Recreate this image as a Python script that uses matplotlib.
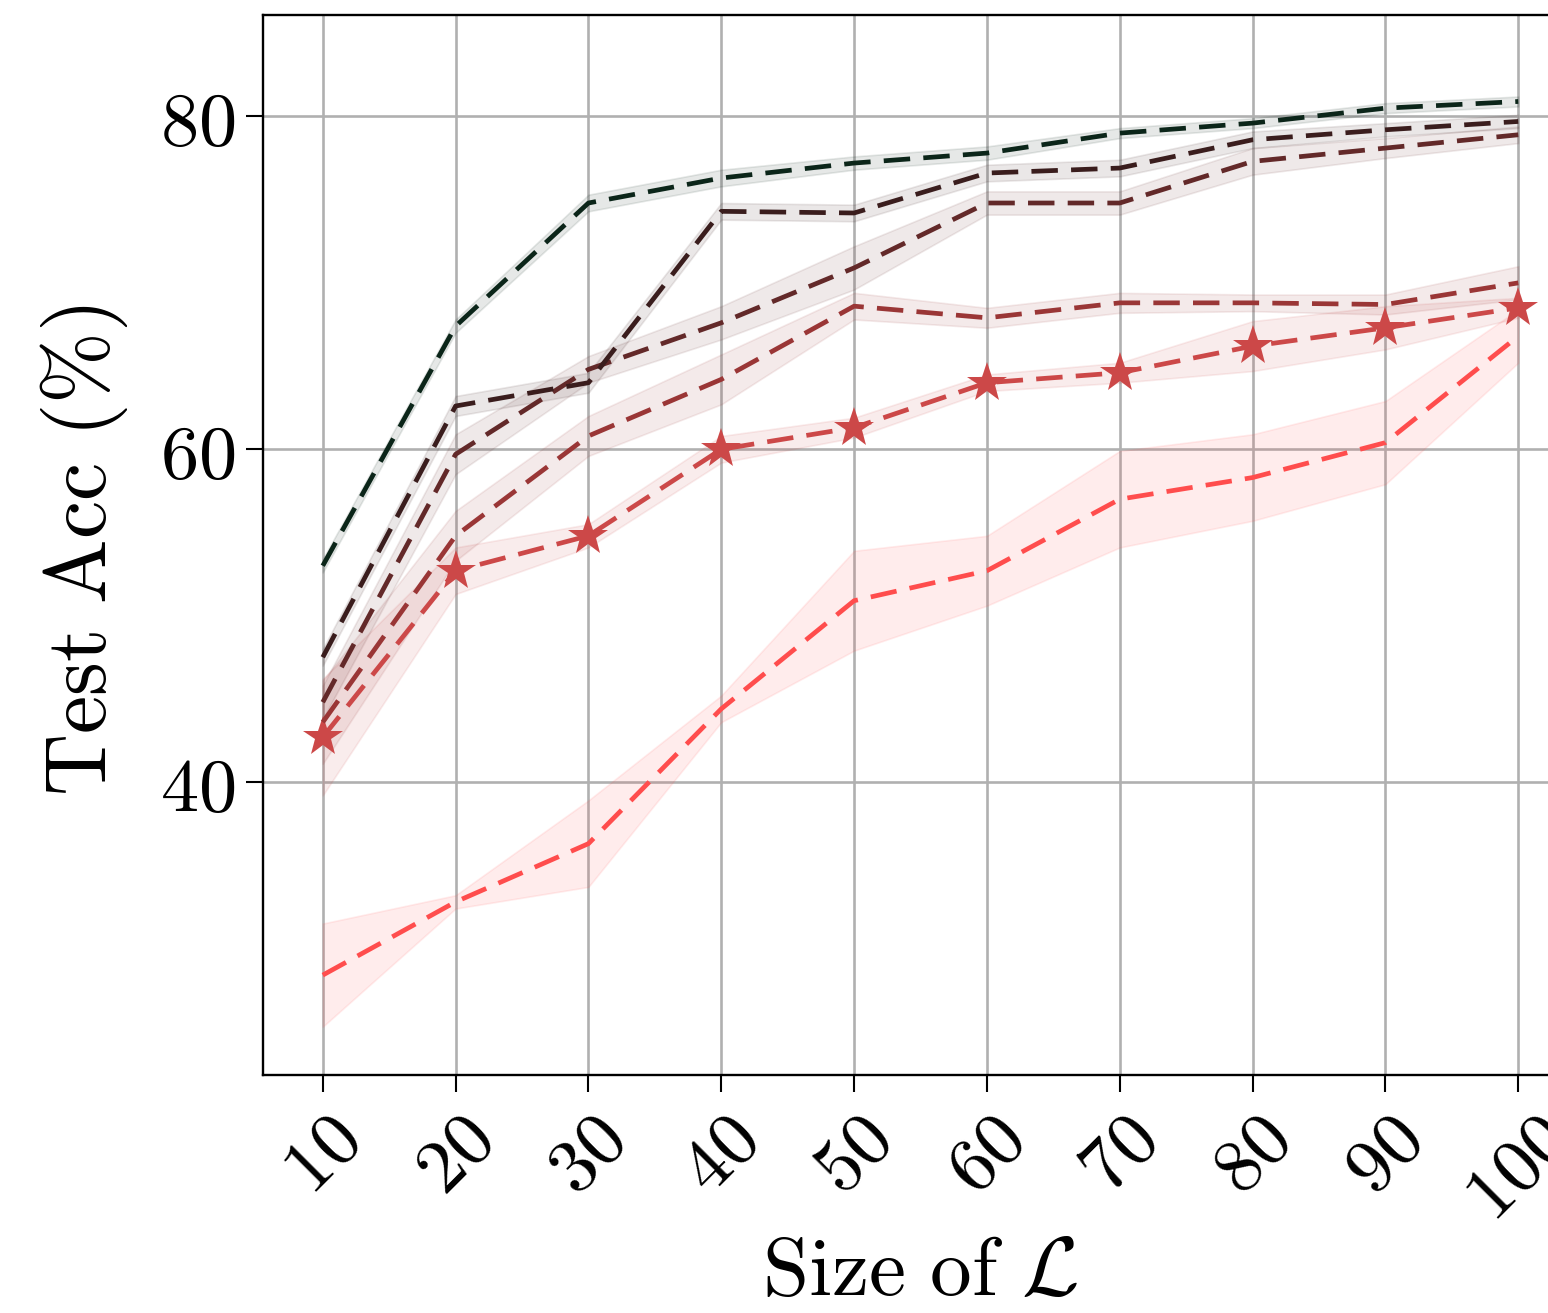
import matplotlib
matplotlib.use("Agg")
import matplotlib.pyplot as plt
import numpy as np

plt.rcParams['mathtext.fontset'] = 'cm'
plt.rcParams['font.family'] = ['DejaVu Serif']

# ---- data ----
sizes = [10, 20, 30, 40, 50, 60, 70, 80, 90, 100]
x_labels = ['10', '20', '30', '40', '50', '60', '70', '80', '90', '100']
y_ticks = [40, 60, 80]

acc_a = [53.0, 67.4, 74.8, 76.3, 77.2, 77.8, 79.0, 79.6, 80.5, 80.9]
std_a = [0.4, 0.4, 0.5, 0.5, 0.4, 0.4, 0.3, 0.3, 0.3, 0.3]
acc_b = [47.5, 62.6, 64.0, 74.3, 74.2, 76.6, 76.9, 78.6, 79.2, 79.7]
std_b = [0.5, 0.6, 0.6, 0.5, 0.5, 0.5, 0.5, 0.5, 0.4, 0.4]
acc_c = [44.8, 59.7, 64.8, 67.6, 70.9, 74.8, 74.8, 77.3, 78.1, 78.9]
std_c = [1.0, 1.2, 0.8, 1.0, 1.3, 0.7, 0.7, 0.8, 0.6, 0.5]
acc_d = [43.6, 54.8, 60.8, 64.2, 68.6, 67.9, 68.8, 68.8, 68.7, 70.0]
std_d = [2.5, 1.5, 1.2, 1.5, 0.8, 0.6, 0.6, 0.5, 0.6, 1.0]
acc_e = [42.7, 52.7, 54.8, 60.0, 61.3, 64.0, 64.6, 66.2, 67.3, 68.5]
std_e = [3.5, 1.4, 0.7, 0.8, 0.6, 0.5, 0.6, 1.5, 1.3, 0.6]
acc_f = [28.4, 32.8, 36.3, 44.4, 50.9, 52.7, 57.0, 58.3, 60.4, 66.8]
std_f = [3.1, 0.4, 2.6, 0.8, 3.0, 2.1, 2.9, 2.6, 2.5, 1.6]

series = [
    (acc_f, std_f, '#ff4d4d', None),
    (acc_e, std_e, '#cc4848', '*'),
    (acc_d, std_d, '#9a3636', None),
    (acc_c, std_c, '#632929', None),
    (acc_b, std_b, '#3a1d1d', None),
    (acc_a, std_a, '#0b2519', None),
]

fig = plt.figure(figsize=(15.48, 13.13), dpi=100)
ax = fig.add_axes([0.1699, 0.1813, 0.8495, 0.8073])

x = np.array(sizes, dtype=float)
for acc, std, color, marker in series:
    acc = np.array(acc)
    std = np.array(std)
    ax.fill_between(x, acc - std, acc + std, color=color, alpha=0.1, linewidth=1.2)
    ln, = ax.plot(x, acc, color=color, linewidth=3.4, linestyle='--',
                  marker=marker, markersize=30 if marker else 0,
                  markeredgewidth=0)
    ln.set_dashes((5.6, 2.8))

ax.set_xlim(5.5, 104.5)
ax.set_ylim(22.4, 86.1)
ax.set_xticks(sizes)
ax.set_xticklabels([r'$%s$' % s for s in x_labels], rotation=45, ha='center')
ax.set_yticks(y_ticks)
ax.set_yticklabels([r'$%d$' % v for v in y_ticks])
ax.tick_params(axis='both', labelsize=55, length=12, width=1.5, pad=8)
ax.grid(True, color='#b0b0b0', linewidth=1.9)
ax.set_axisbelow(True)
for sp in ax.spines.values():
    sp.set_linewidth(1.7)

ax.set_ylabel(r'$\mathrm{Test\ Acc\ (\%)}$', fontsize=62)
ax.set_xlabel(r'$\mathrm{Size\ of\ }\mathcal{L}$', fontsize=60)
ax.yaxis.set_label_coords(-0.101, 0.495)
ax.xaxis.set_label_coords(0.4996, -0.148)

fig.savefig('out.png', dpi=100)
